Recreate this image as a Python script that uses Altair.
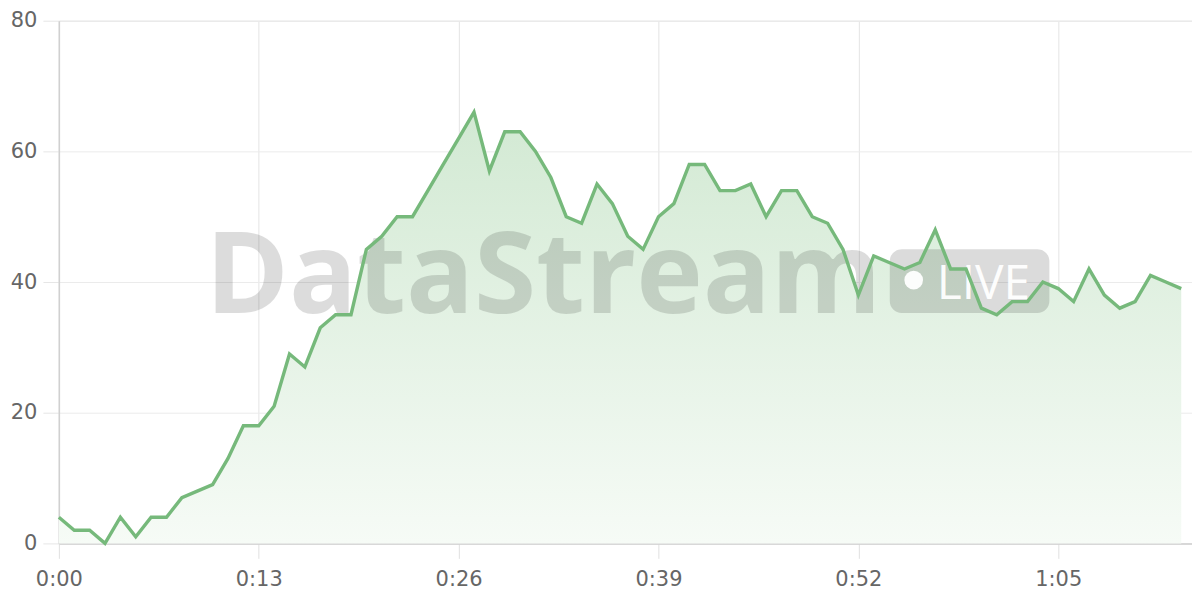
import altair as alt
import pandas as pd

# seconds since start
seconds = list(range(74))
values = [4, 2, 2, 0, 4, 1, 4, 4, 7, 8, 9, 13, 18, 18, 21, 29, 27, 33, 35, 35,
          45, 47, 50, 50, 54, 58, 62, 66, 57, 63, 63, 60, 56, 50, 49, 55, 52, 47,
          45, 50, 52, 58, 58, 54, 54, 55, 50, 54, 54, 50, 49, 45, 38, 44, 43, 42,
          43, 48, 42, 42, 36, 35, 37, 37, 40, 39, 37, 42, 38, 36, 37, 41, 40, 39]
x_ticks = [0, 13, 26, 39, 52, 65]
y_ticks = [0, 20, 40, 60, 80]
watermark = ["DataStream"]
badge = ["LIVE"]

df = pd.DataFrame({"t": seconds, "v": values})
one = pd.DataFrame({"k": [0]})

LINE = "#76b97b"
FONT = "DejaVu Sans"

x_enc = alt.X("t:Q", scale=alt.Scale(domain=[0, 73.7], nice=False, zero=False),
              axis=alt.Axis(values=x_ticks, title=None,
                            labelExpr="floor(datum.value/60) + ':' + (datum.value % 60 < 10 ? '0' : '') + (datum.value % 60)",
                            grid=True, gridColor="#e4e4e4", tickColor="#e0e0e0",
                            tickSize=15, domainColor="#d0d0d0", domainWidth=1.5,
                            labelFontSize=21, labelColor="#666666", labelFont=FONT,
                            labelPadding=10, labelFlush=False))
y_enc = alt.Y("v:Q", scale=alt.Scale(domain=[0, 80], nice=False),
              axis=alt.Axis(values=y_ticks, title=None, grid=True,
                            gridColor="#ebebeb", tickColor="#e6e6e6", tickSize=16,
                            domainColor="#d0d0d0", domainWidth=1.5,
                            labelFontSize=21, labelColor="#666666", labelFont=FONT,
                            labelPadding=6))

area = alt.Chart(df).mark_area(
    color=alt.Gradient(gradient="linear",
                       stops=[alt.GradientStop(color="#d2e9d3", offset=0),
                              alt.GradientStop(color="#f6fbf6", offset=1)],
                       x1=1, x2=1, y1=0, y2=1)
).encode(x=x_enc, y=y_enc)

wm_text = alt.Chart(pd.DataFrame({"label": watermark})).mark_text(
    font="Open Sans", fontWeight="bold", fontSize=113, align="left",
    baseline="alphabetic", color="#000000", opacity=0.135
).encode(text="label:N", x=alt.value(147), y=alt.value(293))

pill = alt.Chart(one).mark_rect(
    color="#000000", opacity=0.14, cornerRadius=12
).encode(x=alt.value(833), x2=alt.value(993), y=alt.value(229), y2=alt.value(293))

dot = alt.Chart(one).mark_circle(
    color="#ffffff", opacity=0.95, size=350
).encode(x=alt.value(857), y=alt.value(260))

live = alt.Chart(pd.DataFrame({"label": badge})).mark_text(
    font="Open Sans", fontWeight=500, fontSize=48, align="left", baseline="alphabetic",
    color="#ffffff", opacity=0.95
).encode(text="label:N", x=alt.value(880), y=alt.value(279))

line = alt.Chart(df).mark_line(color=LINE, strokeWidth=3.4).encode(x=x_enc, y=y_enc)

chart = alt.layer(area, wm_text, pill, dot, live, line).properties(
    width=1136, height=524,
    padding={"left": 2, "top": 1, "right": 0, "bottom": 0}
).configure_view(stroke=None).configure(background="#ffffff")

chart.save("out.html", embed_options={"renderer": "svg", "actions": False})
